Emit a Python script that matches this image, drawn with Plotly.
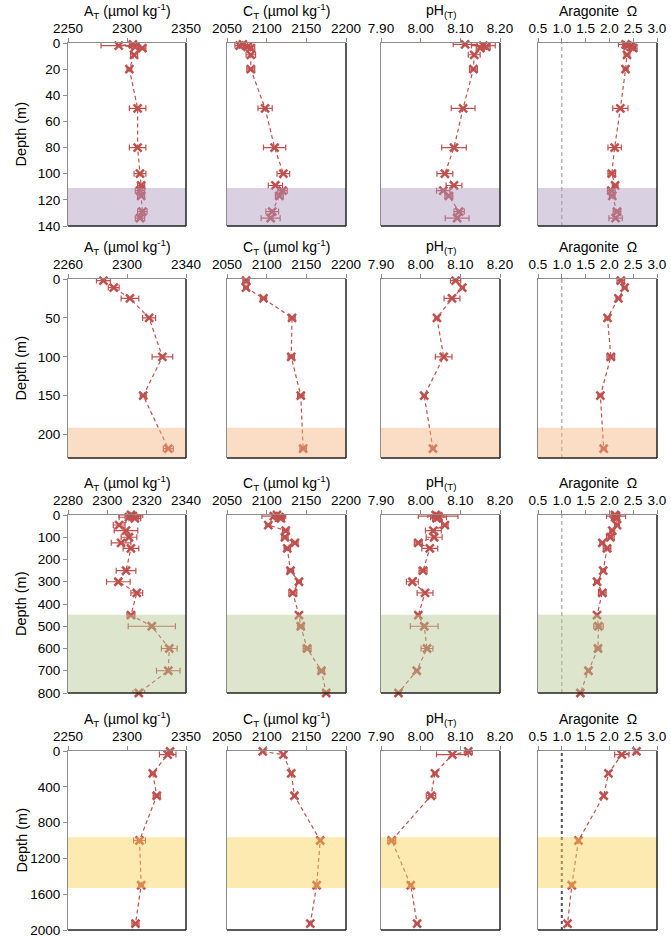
import plotly.graph_objects as go

W, H = 671, 938
RED = '#C0504D'

# ---------------- Row 1 ----------------
r1_depth = [1, 2, 3, 4, 9, 20, 50, 80, 100, 109, 113, 117, 129, 134]
r1_at = [2305, 2293, 2307, 2313, 2306, 2302, 2309, 2309, 2311, 2312, 2311, 2312, 2313, 2311]
r1_at_err = [3, 15, 3, 3, 3, 2, 7, 7, 5, 3, 4, 3, 4, 4]
r1_ct = [2070, 2066, 2076, 2080, 2080, 2080, 2098, 2110, 2121, 2111, 2120, 2116, 2107, 2105]
r1_ct_err = [6, 6, 5, 5, 6, 5, 9, 14, 8, 9, 6, 5, 8, 12]
r1_ph = [8.112, 8.158, 8.165, 8.150, 8.135, 8.133, 8.107, 8.084, 8.061, 8.084, 8.057, 8.071, 8.097, 8.092]
r1_ph_err = [0.03, 0.03, 0.01, 0.01, 0.015, 0.01, 0.03, 0.031, 0.02, 0.02, 0.017, 0.01, 0.013, 0.03]
r1_om = [2.34, 2.38, 2.45, 2.50, 2.37, 2.34, 2.23, 2.11, 2.05, 2.12, 2.04, 2.06, 2.16, 2.13]
r1_om_err = [0.15, 0.1, 0.1, 0.08, 0.06, 0.05, 0.16, 0.14, 0.08, 0.06, 0.08, 0.06, 0.08, 0.14]

# ---------------- Row 2 ----------------
r2_depth = [2, 11, 25, 50, 100, 150, 218]
r2_at = [2284, 2291, 2302, 2315, 2324, 2311, 2328]
r2_at_err = [4.7, 3.7, 6, 4.4, 7, 2, 3.4]
r2_ct = [2074, 2074, 2096, 2132, 2131, 2143, 2146]
r2_ct_err = [4, 3, 4, 4, 4, 4, 4]
r2_ph = [8.088, 8.105, 8.079, 8.041, 8.058, 8.009, 8.031]
r2_ph_err = [0.013, 0.005, 0.02, 0.005, 0.021, 0.005, 0.005]
r2_om = [2.24, 2.32, 2.19, 1.96, 2.03, 1.81, 1.88]
r2_om_err = [0.08, 0.05, 0.05, 0.05, 0.08, 0.05, 0.05]

# ---------------- Row 3 ----------------
r3_depth = [0, 5, 10, 15, 45, 70, 100, 125, 150, 250, 300, 350, 450, 500, 600, 700, 800]
r3_at = [2312, 2313, 2311, 2314, 2306, 2309.5, 2311, 2307, 2312, 2309.5, 2305.6, 2315, 2312, 2322.6, 2331.5, 2331, 2316]
r3_at_err = [6, 4, 5, 3, 3, 6, 4, 5, 4, 5, 6, 3, 2, 12, 4, 6, 3]
r3_ct = [2113, 2109, 2116, 2118, 2102, 2124, 2123, 2135.6, 2126, 2130, 2140.7, 2133, 2140.7, 2143, 2151, 2169, 2175]
r3_ct_err = [5, 15, 6, 4, 3, 4, 4, 4, 4, 4, 3, 5, 2, 4, 5, 4, 4]
r3_ph = [8.038, 8.044, 8.045, 8.040, 8.061, 8.032, 8.034, 7.994, 8.023, 8.006, 7.979, 8.011, 7.994, 8.009, 8.016, 7.990, 7.944]
r3_ph_err = [0.02, 0.05, 0.02, 0.01, 0.008, 0.02, 0.02, 0.01, 0.02, 0.01, 0.015, 0.02, 0.005, 0.035, 0.015, 0.005, 0.005]
r3_om = [2.115, 2.14, 2.12, 2.15, 2.16, 2.06, 2.02, 1.85, 1.95, 1.87, 1.74, 1.85, 1.74, 1.77, 1.76, 1.56, 1.39]
r3_om_err = [0.1, 0.2, 0.05, 0.05, 0.05, 0.05, 0.08, 0.05, 0.08, 0.05, 0.05, 0.08, 0.03, 0.1, 0.06, 0.04, 0.04]

# ---------------- Row 4 ----------------
r4_depth = [5, 40, 250, 500, 1000, 1500, 1930]
r4_at = [2336.5, 2334.5, 2321.8, 2325.2, 2310.6, 2312, 2307.2]
r4_at_err = [2, 7, 2, 3, 5, 2, 3]
r4_ct = [2095, 2121, 2131, 2135, 2167.5, 2163, 2155]
r4_ct_err = [2, 2, 2, 2, 2, 2, 2]
r4_ph = [8.120, 8.080, 8.036, 8.026, 7.927, 7.975, 7.991]
r4_ph_err = [0.01, 0.04, 0.005, 0.012, 0.01, 0.005, 0.005]
r4_om = [2.57, 2.26, 1.98, 1.88, 1.35, 1.21, 1.12]
r4_om_err = [0.02, 0.15, 0.03, 0.03, 0.03, 0.03, 0.02]

# axis settings
col_titles = ['A<sub>T</sub> (µmol kg<sup>-1</sup>)', 'C<sub>T</sub> (µmol kg<sup>-1</sup>)',
              'pH<sub>(T)</sub>', 'Aragonite\u00a0 Ω']
at_ranges = [[2250, 2350, 50], [2260, 2340, 40], [2280, 2340, 20], [2250, 2350, 50]]
ct_range = [2050, 2200, 50]
ph_range = [7.9, 8.2, 0.1]
om_range = [0.5, 3.0, 0.5]
depth_ranges = [[140, 20], [230, 50], [800, 100], [2000, 400]]
bands = [[111, 140], [191, 230], [448, 800], [965, 1530]]
band_colors = ['rgb(171,151,191)', 'rgb(246,177,124)', 'rgb(179,199,142)', 'rgb(251,208,79)']

rows = [
    (r1_depth, [(r1_at, r1_at_err), (r1_ct, r1_ct_err), (r1_ph, r1_ph_err), (r1_om, r1_om_err)]),
    (r2_depth, [(r2_at, r2_at_err), (r2_ct, r2_ct_err), (r2_ph, r2_ph_err), (r2_om, r2_om_err)]),
    (r3_depth, [(r3_at, r3_at_err), (r3_ct, r3_ct_err), (r3_ph, r3_ph_err), (r3_om, r3_om_err)]),
    (r4_depth, [(r4_at, r4_at_err), (r4_ct, r4_ct_err), (r4_ph, r4_ph_err), (r4_om, r4_om_err)]),
]

col_px = [[68, 186], [227, 346], [381, 500], [538, 657]]
row_px = [[43, 226], [279, 458], [515, 693], [751, 930]]

fig = go.Figure()
layout = dict(width=W, height=H, margin=dict(l=0, r=0, t=0, b=0),
              paper_bgcolor='white', plot_bgcolor='white',
              font=dict(family='Liberation Sans, Arial, sans-serif', color='black', size=13.5),
              showlegend=False)
shapes = []
annotations = []

for r in range(4):
    depth, series = rows[r]
    ymax, ydt = depth_ranges[r]
    for c in range(4):
        k = r * 4 + c + 1
        xs = '' if k == 1 else str(k)
        vals, errs = series[c]
        fig.add_trace(go.Scatter(
            x=vals, y=depth, xaxis='x' + xs, yaxis='y' + xs,
            mode='lines+markers', cliponaxis=False,
            line=dict(color=RED, width=1.2, dash='4px,3px'),
            marker=dict(symbol='x-thin', size=8, color=RED, line=dict(width=2.5, color=RED)),
            error_x=dict(type='data', array=errs, color=RED, thickness=1.2, width=3),
            showlegend=False))
        if c == 0:
            rng = at_ranges[r]
            fmt = ''
        elif c == 1:
            rng = ct_range
            fmt = ''
        elif c == 2:
            rng = ph_range
            fmt = '.2f'
        else:
            rng = om_range
            fmt = '.1f'
        x0, x1 = col_px[c]
        yt, yb = row_px[r]
        layout['xaxis' + xs] = dict(
            domain=[x0 / W, x1 / W], anchor='y' + xs, side='top',
            range=[rng[0], rng[1]], tick0=rng[0], dtick=rng[2], tickformat=fmt,
            showline=True, linecolor='#8c8c8c', linewidth=1,
            ticks='outside', ticklen=4, tickcolor='#8c8c8c',
            showgrid=False, zeroline=False, automargin=False,
            tickfont=dict(size=13.5))
        layout['yaxis' + xs] = dict(
            domain=[1 - yb / H, 1 - yt / H], anchor='x' + xs,
            range=[ymax, 0], tick0=0, dtick=ydt,
            showline=True, linecolor='#8c8c8c', linewidth=1,
            ticks='outside' if c == 0 else '', ticklen=4, tickcolor='#8c8c8c',
            showticklabels=(c == 0),
            showgrid=False, zeroline=False, automargin=False,
            tickfont=dict(size=13.5))
        # band
        shapes.append(dict(type='rect', xref='x' + xs + ' domain', yref='y' + xs,
                           x0=0, x1=1, y0=bands[r][0], y1=min(bands[r][1], ymax),
                           fillcolor=band_colors[r], opacity=0.45, line=dict(width=0),
                           layer='above'))
        # aragonite = 1 line
        if c == 3:
            if r == 3:
                ln = dict(color='#555555', width=2, dash='dot')
            else:
                ln = dict(color='#a6a6a6', width=1.2, dash='4px,3px')
            shapes.append(dict(type='line', xref='x' + xs, yref='y' + xs + ' domain',
                               x0=1.0, x1=1.0, y0=0, y1=1, line=ln, layer='below'))
        # right and bottom borders
        shapes.append(dict(type='line', xref='x' + xs + ' domain', yref='y' + xs + ' domain',
                           x0=1, x1=1, y0=0, y1=1, line=dict(color='#222222', width=1.5), layer='above'))
        shapes.append(dict(type='line', xref='x' + xs + ' domain', yref='y' + xs + ' domain',
                           x0=0, x1=1, y0=0, y1=0, line=dict(color='#222222', width=1.5), layer='above'))
        # column title
        annotations.append(dict(text=col_titles[c], xref='paper', yref='paper',
                                x=(x0 + x1) / 2 / W, y=1 - (yt - 32) / H,
                                xanchor='center', yanchor='middle', showarrow=False,
                                font=dict(size=14)))
    # depth title
    yt, yb = row_px[r]
    annotations.append(dict(text='Depth (m)', xref='paper', yref='paper',
                            x=21 / W, y=1 - (yt + yb) / 2 / H, textangle=-90,
                            xanchor='center', yanchor='middle', showarrow=False,
                            font=dict(size=14.5)))

layout['shapes'] = shapes
layout['annotations'] = annotations
fig.update_layout(**layout)
fig.write_html('out.html', config={'displayModeBar': False},
               post_script="document.body.style.margin='0px';document.body.style.padding='0px';document.body.style.overflow='hidden';")
